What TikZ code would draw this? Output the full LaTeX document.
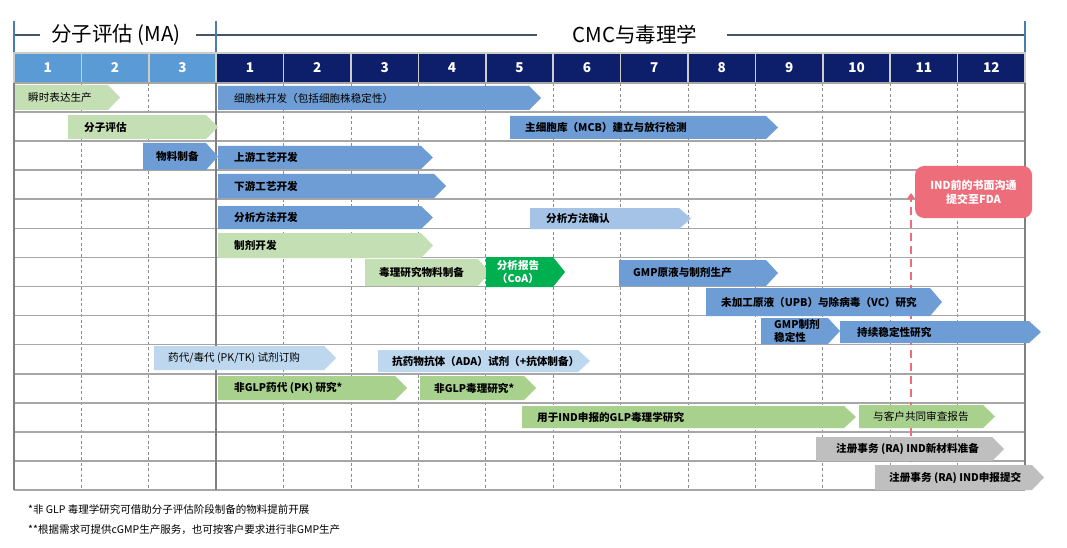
\documentclass[tikz,border=0pt]{standalone}
\usepackage{fontspec}
\setmainfont{Noto Sans CJK SC}
\newfontfamily\cjk{Noto Sans CJK SC}
\usetikzlibrary{arrows.meta}
\definecolor{mablue}{HTML}{5B9BD5}
\definecolor{navy}{HTML}{0D1F6B}
\definecolor{barblue}{HTML}{6E9DD6}
\definecolor{lblue}{HTML}{A4C3E7}
\definecolor{pblue}{HTML}{BDD7EE}
\definecolor{lgreen}{HTML}{C5DFB4}
\definecolor{mgreen}{HTML}{A9D18E}
\definecolor{dgreen}{HTML}{00B050}
\definecolor{rgray}{HTML}{BFBFBF}
\definecolor{indred}{HTML}{EE6D7A}
\definecolor{gridgray}{HTML}{A6A6A6}
\definecolor{tickblue}{HTML}{4A7DB5}
\definecolor{brkline}{HTML}{44546A}
\tikzset{
  lbl/.style={inner sep=0pt, font=\cjk\fontsize{10.6}{12}\selectfont, text=black},
  blbl/.style={lbl, font=\cjk\bfseries\fontsize{10.6}{12}\selectfont},
  hnum/.style={inner sep=0pt, font=\cjk\bfseries\fontsize{13.5}{15}\selectfont, text=white},
  title/.style={inner sep=0pt, font=\cjk\fontsize{20.5}{22}\selectfont, text=black},
  foot/.style={inner sep=0pt, font=\cjk\fontsize{10.5}{12}\selectfont, text=black, anchor=west},
  hline/.style={draw=gridgray, line width=1.6pt},
  vdash/.style={draw=gray!90, line width=0.8pt, dash pattern=on 3pt off 2.5pt},
  vsolid/.style={draw=gray, line width=1.8pt},
  hsep/.style={draw=gray!40, line width=1.6pt},
  tickline/.style={draw=tickblue, line width=1.8pt},
  brk/.style={draw=brkline, line width=1.1pt},
  indbox/.style={fill=indred, rounded corners=9pt, text=white, align=center,
     font=\cjk\bfseries\fontsize{11}{14}\selectfont, minimum width=117pt, minimum height=52pt, inner sep=0pt},
  indarrow/.style={draw=indred, line width=2.4pt, dash pattern=on 8pt off 5pt, -{Triangle[width=8pt,length=6pt]}}
}
% name, fill, x1, x2, ytop, ybot, text x, text
\newcommand\ganttbar[8]{%
  \fill[#2] (#3,#5) -- ({#4-12},#5) -- (#4,{(#5+#6)/2}) -- ({#4-12},#6) -- (#3,#6) -- cycle;
  \node[blbl,anchor=west] (#1) at (#7,{(#5+#6)/2}) {#8};}
\newcommand\ganttbarr[8]{%
  \fill[#2] (#3,#5) -- ({#4-12},#5) -- (#4,{(#5+#6)/2}) -- ({#4-12},#6) -- (#3,#6) -- cycle;
  \node[lbl,anchor=west] (#1) at (#7,{(#5+#6)/2}) {#8};}
\begin{document}
\begin{tikzpicture}[x=1pt,y=-1pt]
\useasboundingbox (0,0) rectangle (1067,548);
\fill[white] (0,0) rectangle (1067,548);

% bracket titles
\node[title] (ma) at (116,35) {分子评估 (MA)};
\node[title] (cmc) at (635,35) {CMC与毒理学};
\draw[brk] (14,35) -- (40,35);
\draw[brk] (196,35) -- (537,35);
\draw[brk] (727,35) -- (1025,35);
\draw[tickline] (14,21) -- (14,52);
\draw[tickline] (216.2,21) -- (216.2,52);
\draw[tickline] (1025,21) -- (1025,52);

% header cells
\foreach \i in {0,1,2} {
  \pgfmathsetmacro\xa{14+67.4*\i}
  \pgfmathtruncatemacro\nn{\i+1}
  \fill[mablue] (\xa,53) rectangle ({\xa+67.4},83);
  \draw[hsep] (\xa,53) rectangle ({\xa+67.4},83);
  \node[hnum] (ha\i) at ({\xa+33.7},68) {\nn};
}
\foreach \i in {3,...,14} {
  \pgfmathsetmacro\xa{14+67.4*\i}
  \pgfmathtruncatemacro\nn{\i-2}
  \fill[navy] (\xa,53) rectangle ({\xa+67.4},83);
  \draw[hsep] (\xa,53) rectangle ({\xa+67.4},83);
  \node[hnum] (hc\i) at ({\xa+33.7},68) {\nn};
}

% grid
\foreach \c in {1,2,4,5,6,7,8,9,10,11,12,13,14} {
  \draw[vdash] ({14+67.4*\c},83) -- ({14+67.4*\c},490);
}
\foreach \k in {0,...,14} {
  \draw[hline] (14,{83+29.07*\k}) -- (1025,{83+29.07*\k});
}
\draw[vsolid] (14,83) -- (14,490);
\draw[vsolid] (216.2,83) -- (216.2,490);
\draw[vsolid] (1025,83) -- (1025,490);

% IND dashed arrow and box
\coordinate (indlow) at (911,462);
\coordinate (indtop) at (911,193);
\draw[indarrow] (indlow) -- (indtop);
\node[indbox] (ind) at (973.5,192) {IND前的书面沟通\\提交至FDA};

% bars
\ganttbarr{b1}{lgreen}{15}{120}{85}{110}{28}{瞬时表达生产}
\ganttbarr{b2}{barblue}{218}{541}{86}{110}{234}{细胞株开发（包括细胞株稳定性）}
\ganttbar{b3}{lgreen}{68}{218}{115}{139}{84}{分子评估}
\ganttbar{b4}{barblue}{510}{778}{116}{139}{525}{主细胞库（MCB）建立与放行检测}
\ganttbar{b5}{barblue}{143}{218}{143}{170}{156}{物料制备}
\ganttbar{b6}{barblue}{218}{433}{146}{169}{234}{上游工艺开发}
\ganttbar{b7}{barblue}{218}{446}{174}{198}{234}{下游工艺开发}
\ganttbar{b8}{barblue}{218}{433}{206}{229}{234}{分析方法开发}
\ganttbar{b9}{lblue}{530}{691}{208}{229}{546}{分析方法确认}
\ganttbar{b10}{lgreen}{218}{433}{233}{258}{234}{制剂开发}
\ganttbar{b11}{lgreen}{365}{490}{259}{286}{379}{毒理研究物料制备}
\fill[dgreen] (486,257) -- (553,257) -- (565,272) -- (553,287) -- (486,287) -- cycle;
\node[blbl, text=white, align=center, font=\cjk\bfseries\fontsize{10.6}{13}\selectfont] (b12) at (518,272) {分析报告\\（CoA）};
\ganttbar{b13}{barblue}{619}{778}{260}{286}{633}{GMP原液与制剂生产}
\ganttbar{b14}{barblue}{706}{942}{288}{316}{721}{未加工原液（UPB）与除病毒（VC）研究}
\fill[barblue] (761,318) -- (828,318) -- (840,331) -- (828,344) -- (761,344) -- cycle;
\node[blbl, align=left, anchor=west, font=\cjk\bfseries\fontsize{10.6}{13}\selectfont] (b15) at (774,331) {GMP制剂\\稳定性};
\ganttbar{b16}{barblue}{840}{1041}{321}{343}{857}{持续稳定性研究}
\ganttbarr{b17}{pblue}{154}{336}{346}{370}{168}{药代/毒代 (PK/TK) 试剂订购}
\ganttbar{b18}{pblue}{378}{590}{350}{372}{392}{抗药物抗体（ADA）试剂（+抗体制备）}
\ganttbar{b19}{mgreen}{218}{407}{376}{400}{234}{非GLP药代 (PK) 研究*}
\ganttbar{b20}{mgreen}{420}{536}{376}{400}{434}{非GLP毒理研究*}
\ganttbar{b21}{mgreen}{522}{856}{406}{428}{537}{用于IND申报的GLP毒理学研究}
\ganttbarr{b22}{mgreen}{859}{995}{405}{428}{873}{与客户共同审查报告}
\ganttbar{b23}{rgray}{816}{1004}{437}{461}{836}{注册事务 (RA) IND新材料准备}
\ganttbar{b24}{rgray}{875}{1044}{465}{490}{889}{注册事务 (RA) IND申报提交}

% footnotes
\node[foot] (f1) at (28,509) {*非 GLP 毒理学研究可借助分子评估阶段制备的物料提前开展};
\node[foot] (f2) at (28,530) {**根据需求可提供cGMP生产服务，也可按客户要求进行非GMP生产};
\end{tikzpicture}
\end{document}
